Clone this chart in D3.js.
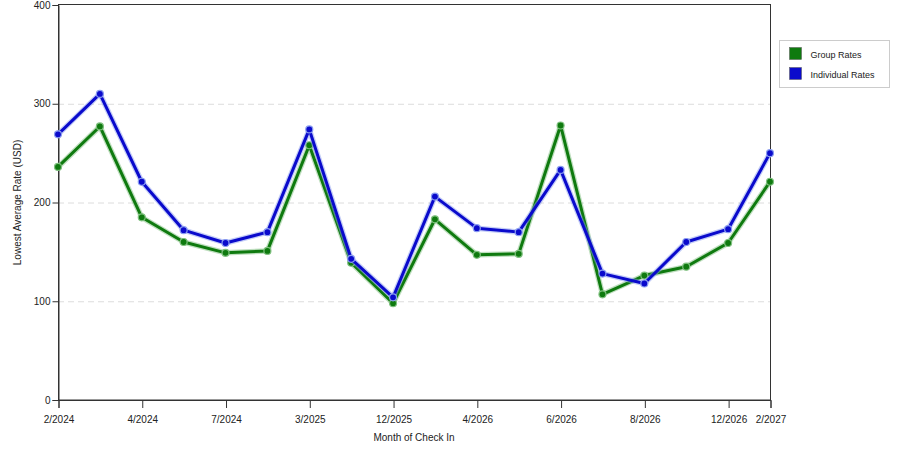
<!DOCTYPE html>
<html>
<head>
<meta charset="utf-8">
<script src="https://cdn.jsdelivr.net/npm/d3@7"></script>
<style>
  body { margin: 0; background: #fff; }
  svg text { font-family: "Liberation Sans", Arial, sans-serif; fill: #222; }
</style>
</head>
<body>
<div id="chart"></div>
<script>
// Months of check-in (only every other one is labelled on the axis)
const months = ['2/2024', '3/2024', '4/2024', '5/2024', '7/2024', '8/2024', '3/2025', '6/2025', '12/2025',
                '2/2026', '4/2026', '5/2026', '6/2026', '7/2026', '8/2026', '10/2026', '12/2026', '2/2027'];
const tickMonths = ['2/2024', '4/2024', '7/2024', '3/2025', '12/2025', '4/2026', '6/2026', '8/2026', '12/2026', '2/2027'];

const groupRates      = [236, 277, 185, 160, 149, 151, 258, 139, 98, 183, 147, 148, 278, 107, 126, 135, 159, 221];
const individualRates = [269, 310, 221, 172, 159, 170, 274, 143, 104, 206, 174, 170, 233, 128, 118, 160, 173, 250];

const yTicks = [0, 100, 200, 300, 400];

const series = [
  { name: 'Group Rates',      values: groupRates,      color: '#0f7a0f', halo: '#7fc07f' },
  { name: 'Individual Rates', values: individualRates, color: '#0a0acc', halo: '#8a9cf0' }
];

// ── Layout ────────────────────────────────────────────────────────────────────
const W = 900, H = 450;
const M = { top: 5, right: 130, bottom: 50, left: 58 };

const svg = d3.select('#chart').append('svg')
  .attr('width', W).attr('height', H);

const x = d3.scalePoint().domain(months).range([M.left, W - M.right]);
const y = d3.scaleLinear().domain([0, 400]).range([H - M.bottom, M.top]);

// grid
svg.append('g').selectAll('line')
  .data(yTicks.filter(t => t > 0 && t < 400))
  .join('line')
  .attr('x1', M.left).attr('x2', W - M.right)
  .attr('y1', d => y(d) + .5).attr('y2', d => y(d) + .5)
  .attr('stroke', '#dcdcdc')
  .attr('stroke-dasharray', '6,4');

// frame
svg.append('rect')
  .attr('x', M.left + .5).attr('y', M.top - .5)
  .attr('width', W - M.right - M.left).attr('height', H - M.bottom - M.top + .5)
  .attr('fill', 'none').attr('stroke', '#333');

// axes
const xAxis = svg.append('g')
  .attr('transform', `translate(0.5,${H - M.bottom})`)
  .call(d3.axisBottom(x).tickValues(tickMonths).tickSize(8).tickPadding(8));
const yAxis = svg.append('g')
  .attr('transform', `translate(${M.left + .5},0)`)
  .call(d3.axisLeft(y).tickValues(yTicks).tickSize(6).tickPadding(2));

[xAxis, yAxis].forEach(a => {
  a.select('.domain').attr('stroke', '#333');
  a.selectAll('.tick line').attr('stroke', '#333');
  a.selectAll('.tick text').attr('font-size', 10).attr('fill', '#222');
  a.attr('font-family', null);
});

svg.append('text')
  .attr('x', (M.left + W - M.right) / 2).attr('y', H - 9)
  .attr('text-anchor', 'middle').attr('font-size', 10)
  .text('Month of Check In');

svg.append('text')
  .attr('transform', `translate(21,${(M.top + H - M.bottom) / 2}) rotate(-90)`)
  .attr('text-anchor', 'middle').attr('font-size', 10)
  .text('Lowest Average Rate (USD)');

// ── Lines ─────────────────────────────────────────────────────────────────────
const line = d3.line().x((d, i) => x(months[i])).y(d => y(d));

for (const s of series) {
  const g = svg.append('g');
  g.append('path')
    .attr('d', line(s.values))
    .attr('fill', 'none')
    .attr('stroke', s.halo).attr('stroke-opacity', .5)
    .attr('stroke-width', 5.5)
    .attr('stroke-linejoin', 'round');
  g.append('path')
    .attr('d', line(s.values))
    .attr('fill', 'none')
    .attr('stroke', s.color)
    .attr('stroke-width', 3)
    .attr('stroke-linejoin', 'round');
  g.selectAll('circle')
    .data(s.values)
    .join('circle')
    .attr('cx', (d, i) => x(months[i])).attr('cy', d => y(d))
    .attr('r', 3.5)
    .attr('fill', s.color)
    .attr('stroke', s.halo).attr('stroke-width', 1.2);
}

// ── Legend ────────────────────────────────────────────────────────────────────
const lg = svg.append('g').attr('transform', 'translate(779.5,40.5)');
lg.append('rect')
  .attr('width', 110).attr('height', 47)
  .attr('fill', '#fff').attr('stroke', '#ccc');
series.forEach((s, i) => {
  lg.append('rect')
    .attr('x', 10).attr('y', 7 + i * 20)
    .attr('width', 12).attr('height', 12)
    .attr('fill', s.color).attr('stroke', '#555').attr('stroke-width', .5);
  lg.append('text')
    .attr('x', 31).attr('y', 17 + i * 20)
    .attr('font-size', 9)
    .text(s.name);
});
</script>
</body>
</html>
